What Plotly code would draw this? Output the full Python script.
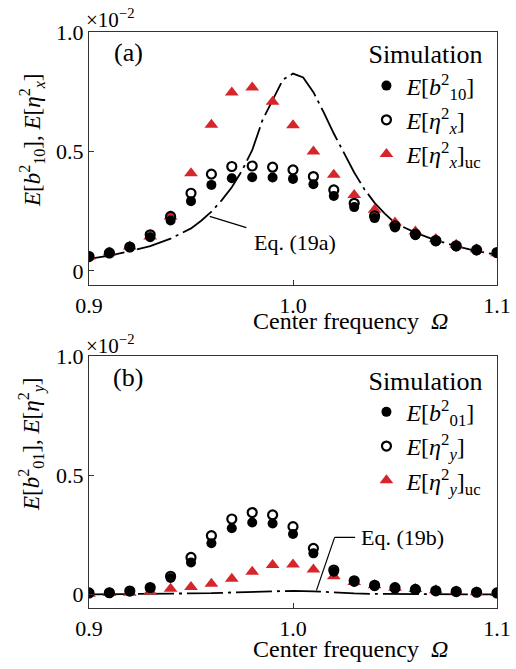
import plotly.graph_objects as go

# ---------------- data ----------------
omega = [0.90, 0.91, 0.92, 0.93, 0.94, 0.95, 0.96, 0.97, 0.98, 0.99, 1.00,
         1.01, 1.02, 1.03, 1.04, 1.05, 1.06, 1.07, 1.08, 1.09, 1.10]

# panel (a)
b10_sq = [0.060, 0.074, 0.099, 0.141, 0.211, 0.292, 0.360, 0.388, 0.392, 0.391, 0.385,
          0.363, 0.314, 0.267, 0.221, 0.182, 0.149, 0.123, 0.102, 0.085, 0.074]
etax_sq = [0.060, 0.075, 0.100, 0.151, 0.228, 0.325, 0.405, 0.437, 0.439, 0.434, 0.423,
           0.395, 0.339, 0.283, 0.230, 0.189, 0.154, 0.127, 0.105, 0.088, 0.077]
etax_sq_uc = [0.060, 0.077, 0.102, 0.144, 0.228, 0.409, 0.612, 0.747, 0.768, 0.708, 0.610,
              0.500, 0.402, 0.318, 0.256, 0.203, 0.165, 0.133, 0.109, 0.091, 0.074]
eq19a_x = [0.900, 0.910, 0.920, 0.930, 0.940, 0.950, 0.955, 0.960, 0.965, 0.970, 0.975,
           0.980, 0.985, 0.990, 0.995, 1.000, 1.005, 1.010, 1.015, 1.020, 1.025, 1.030,
           1.035, 1.040, 1.045, 1.050, 1.060, 1.070, 1.080, 1.090, 1.100]
eq19a_y = [0.050, 0.064, 0.082, 0.104, 0.135, 0.178, 0.210, 0.248, 0.295, 0.350, 0.420,
           0.505, 0.630, 0.715, 0.800, 0.826, 0.810, 0.748, 0.665, 0.575, 0.492, 0.412,
           0.342, 0.285, 0.240, 0.200, 0.160, 0.128, 0.104, 0.083, 0.067]

# panel (b)
b01_sq = [0.007, 0.008, 0.015, 0.028, 0.070, 0.135, 0.215, 0.278, 0.302, 0.298, 0.254,
          0.173, 0.096, 0.053, 0.035, 0.025, 0.020, 0.015, 0.013, 0.010, 0.007]
etay_sq = [0.007, 0.008, 0.015, 0.030, 0.077, 0.156, 0.247, 0.317, 0.344, 0.334, 0.285,
           0.194, 0.103, 0.058, 0.039, 0.029, 0.022, 0.016, 0.013, 0.010, 0.007]
etay_sq_uc = [0.004, 0.007, 0.008, 0.013, 0.025, 0.032, 0.046, 0.067, 0.096, 0.124, 0.126,
              0.105, 0.077, 0.053, 0.039, 0.029, 0.024, 0.018, 0.014, 0.010, 0.007]
eq19b_x = [0.90, 0.92, 0.94, 0.95, 0.96, 0.97, 0.98, 0.99, 1.00, 1.01, 1.02, 1.03,
           1.04, 1.06, 1.08, 1.10]
eq19b_y = [0.001, 0.002, 0.003, 0.004, 0.006, 0.009, 0.012, 0.015, 0.016, 0.014, 0.009,
           0.005, 0.003, 0.002, 0.001, 0.001]

# annotation anchor points (data coords)
lead_a = {"curve": (0.9592, 0.228), "text": (1.0008, 0.120)}
lead_b = {"curve": (1.0115, 0.018), "bend": (1.0204, 0.240), "text": (1.0535, 0.240)}

x_ticks = [0.9, 1.0, 1.1]
x_ticktext = ["0.9", "1.0", "1.1"]
y_ticks = [0, 0.5, 1.0]
y_ticktext = ["0", "0.5", "1.0"]

# ---------------- style ----------------
FONT = "Liberation Serif"
RED = "#d7262b"
DASH = "36px,5px,3px,5px"

fig = go.Figure()


def add_panel(xa, ya, leg, sim1, sim2, sim3, name1, name2, name3, cx, cy):
    fig.add_trace(go.Scatter(x=cx, y=cy, mode="lines", xaxis=xa, yaxis=ya,
                             line=dict(color="black", width=1.8, dash=DASH),
                             showlegend=False, hoverinfo="skip"))
    fig.add_trace(go.Scatter(x=omega, y=sim3, mode="markers", xaxis=xa, yaxis=ya,
                             name=name3, legend=leg, legendrank=3,
                             marker=dict(symbol="triangle-up", size=12, color=RED,
                                         line=dict(width=0))))
    fig.add_trace(go.Scatter(x=omega, y=sim1, mode="markers", xaxis=xa, yaxis=ya,
                             name=name1, legend=leg, legendrank=1,
                             marker=dict(symbol="circle", size=10, color="black",
                                         line=dict(width=0))))
    fig.add_trace(go.Scatter(x=omega, y=sim2, mode="markers", xaxis=xa, yaxis=ya,
                             name=name2, legend=leg, legendrank=2,
                             marker=dict(symbol="circle-open", size=9, color="black",
                                         line=dict(width=2.2, color="black"))))


add_panel("x", "y", "legend", b10_sq, etax_sq, etax_sq_uc,
          "<i>E</i>[<i>b</i><sup>2</sup><sub>10</sub>]",
          "<i>E</i>[<i>η</i><sup>2</sup><sub><i>x</i></sub>]",
          "<i>E</i>[<i>η</i><sup>2</sup><sub><i>x</i></sub>]<sub>uc</sub>",
          eq19a_x, eq19a_y)
add_panel("x2", "y2", "legend2", b01_sq, etay_sq, etay_sq_uc,
          "<i>E</i>[<i>b</i><sup>2</sup><sub>01</sub>]",
          "<i>E</i>[<i>η</i><sup>2</sup><sub><i>y</i></sub>]",
          "<i>E</i>[<i>η</i><sup>2</sup><sub><i>y</i></sub>]<sub>uc</sub>",
          eq19b_x, eq19b_y)

axis_common = dict(showline=True, linecolor="#333333", linewidth=1.3, mirror=True,
                   ticks="inside", ticklen=5, tickwidth=1.2, tickcolor="#333333",
                   showgrid=False, zeroline=False,
                   tickfont=dict(family=FONT, size=22, color="black"))

fig.update_layout(
    width=516, height=669,
    margin=dict(l=89, r=19, t=32, b=61, autoexpand=False),
    plot_bgcolor="white", paper_bgcolor="white",
    font=dict(family=FONT, color="black"),
    xaxis=dict(domain=[0, 1], anchor="y", range=[0.9, 1.1],
               tickvals=x_ticks, ticktext=x_ticktext, **axis_common),
    yaxis=dict(domain=[0.5608, 1.0], anchor="x", range=[-0.059, 1.0],
               tickvals=y_ticks, ticktext=y_ticktext, **axis_common),
    xaxis2=dict(domain=[0, 1], anchor="y2", range=[0.9, 1.1],
                tickvals=x_ticks, ticktext=x_ticktext, **axis_common),
    yaxis2=dict(domain=[0.0, 0.4375], anchor="x2", range=[-0.056, 1.0],
                tickvals=y_ticks, ticktext=y_ticktext, **axis_common),
    legend=dict(x=0.680, y=1.004, xanchor="left", yanchor="top",
                bgcolor="rgba(0,0,0,0)", borderwidth=0,
                title=dict(text="Simulation", font=dict(family=FONT, size=26)),
                font=dict(family=FONT, size=24), tracegroupgap=0),
    legend2=dict(x=0.680, y=0.4376, xanchor="left", yanchor="top",
                 bgcolor="rgba(0,0,0,0)", borderwidth=0,
                 title=dict(text="Simulation", font=dict(family=FONT, size=26)),
                 font=dict(family=FONT, size=24), tracegroupgap=0),
    showlegend=True,
)

C = dict(xanchor="center", yanchor="middle", showarrow=False)
ann = []
# y-axis titles
ann.append(dict(xref="paper", yref="paper", x=-0.142, y=0.8125, textangle=-90,
                font=dict(size=23), **C,
                text="<i>E</i>[<i>b</i><sup>2</sup><sub>10</sub>], <i>E</i>[<i>η</i><sup>2</sup><sub><i>x</i></sub>]"))
ann.append(dict(xref="paper", yref="paper", x=-0.142, y=0.2847, textangle=-90,
                font=dict(size=23), **C,
                text="<i>E</i>[<i>b</i><sup>2</sup><sub>01</sub>], <i>E</i>[<i>η</i><sup>2</sup><sub><i>y</i></sub>]"))
# x-axis titles
for yy in (0.4986, -0.0712):
    ann.append(dict(xref="paper", yref="paper", x=0.64, y=yy, **C,
                    font=dict(size=24), text="Center frequency  <i>Ω</i>"))
# exponent labels
for yy in (1.024, 0.4566):
    ann.append(dict(xref="paper", yref="paper", x=-0.012, y=yy, xanchor="left",
                    yanchor="middle", showarrow=False, font=dict(size=21),
                    text="×10<sup>−2</sup>"))
# panel labels
ann.append(dict(xref="paper", yref="paper", x=0.0956, y=0.964, **C,
                font=dict(size=26), text="(a)"))
ann.append(dict(xref="paper", yref="paper", x=0.0956, y=0.401, **C,
                font=dict(size=26), text="(b)"))
# equation labels with leaders
ann.append(dict(xref="x", yref="y", axref="x", ayref="y",
                x=lead_a["curve"][0], y=lead_a["curve"][1],
                ax=lead_a["text"][0], ay=lead_a["text"][1],
                text="Eq. (19a)", font=dict(size=22), showarrow=True,
                arrowhead=0, arrowwidth=1.2, arrowcolor="black", startstandoff=6))
ann.append(dict(xref="x2", yref="y2", axref="x2", ayref="y2",
                x=lead_b["bend"][0], y=lead_b["bend"][1],
                ax=lead_b["text"][0], ay=lead_b["text"][1],
                text="Eq. (19b)", font=dict(size=22), showarrow=True,
                arrowhead=0, arrowwidth=1.2, arrowcolor="black", startstandoff=4))
fig.update_layout(annotations=ann)
fig.add_shape(type="line", xref="x2", yref="y2",
              x0=lead_b["bend"][0], y0=lead_b["bend"][1],
              x1=lead_b["curve"][0], y1=lead_b["curve"][1],
              line=dict(color="black", width=1.2))

fig.write_html("out.html", config={"displayModeBar": False},
               post_script="document.body.style.margin='0';document.body.style.padding='0';")
